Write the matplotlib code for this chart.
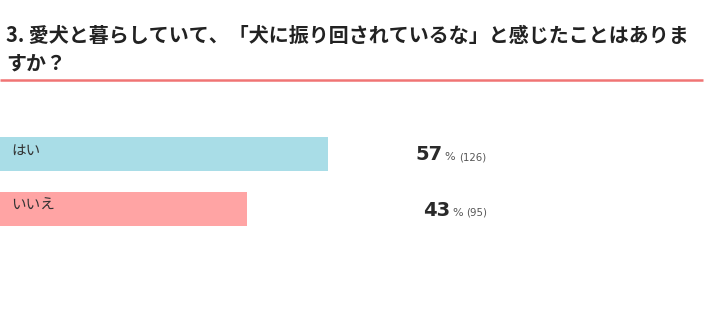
import matplotlib
matplotlib.use("Agg")
import matplotlib.pyplot as plt

plt.rcParams['font.family'] = ['Noto Sans CJK JP', 'DejaVu Sans']

title_lines = ["3. 愛犬と暮らしていて、「犬に振り回されているな」と感じたことはありま", "すか？"]
categories = ["はい", "いいえ"]
percents = [57, 43]
counts = [126, 95]
colors = ["#a9dde7", "#ffa4a4"]

W, H = 710, 332
fig = plt.figure(figsize=(W / 100, H / 100), dpi=100)
ax = fig.add_axes([0, 0, 1, 1])
px_per_pct = 5.75
ax.set_xlim(0, W / px_per_pct)
ax.set_ylim(H, 0)
ax.axis('off')

# title
ax.text(1, 36, title_lines[0], fontsize=14.4, fontweight='bold', va='center', ha='left', color='#222222')
ax.text(1, 63, title_lines[1], fontsize=14.4, fontweight='bold', va='center', ha='left', color='#222222')
ax.plot([0, 703 / px_per_pct], [80, 80], color='#f07474', lw=1.8, solid_capstyle='butt')

centers = [154, 209]
ax.barh(centers, percents, height=34, color=colors, edgecolor='none')

for c, cat in zip(centers, categories):
    ax.text(11 / px_per_pct, c - 3, cat, fontsize=10.5, va='center', ha='left', color='#333333')

num_x = [415, 423]
pct_x = [444, 452]
cnt_x = [459, 466]
for c, p, n, nx, px, cx in zip(centers, percents, counts, num_x, pct_x, cnt_x):
    base = c + 6.5
    ax.text(nx / px_per_pct, base, str(p), fontsize=14, fontweight='bold', family='DejaVu Sans',
            va='baseline', ha='left', color='#2a2a2a')
    ax.text(px / px_per_pct, base, "%", fontsize=8, family='DejaVu Sans',
            va='baseline', ha='left', color='#555555')
    ax.text(cx / px_per_pct, base, f"({n})", fontsize=7.3, family='DejaVu Sans',
            va='baseline', ha='left', color='#555555')

fig.savefig("out.png", dpi=100, facecolor='white')
